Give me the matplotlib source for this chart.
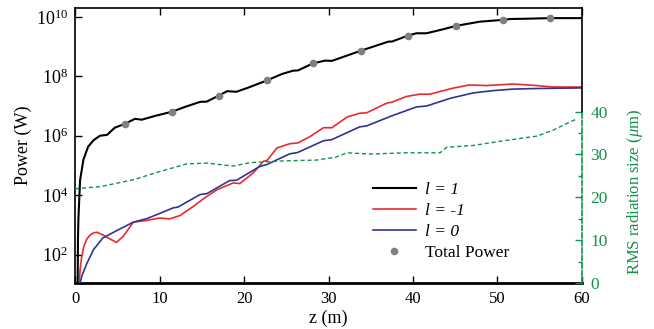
import matplotlib
matplotlib.use('Agg')
import matplotlib.pyplot as plt
import numpy as np
from matplotlib.ticker import FixedLocator, NullLocator, MultipleLocator

# ---------------------------------------------------------------------------
# data (power stored as log10(P / W))
# ---------------------------------------------------------------------------
z_l1 = [0.3, 0.35, 0.4, 0.6, 1.0, 1.55, 2.2, 2.95, 3.8, 4.7, 5.9, 7.1, 7.9, 9.5,
        11.5, 13.0, 14.8, 15.6, 17.0, 18.0, 19.1, 20.5, 22.7, 24.5, 25.8, 26.4,
        28.2, 29.6, 30.4, 32.0, 33.8, 35.5, 37.1, 37.5, 39.4, 40.4, 41.6, 43.5,
        45.1, 47.9, 50.6, 51.5, 53.5, 56.2, 58.0, 60.0]
logp_l1 = [0.5, 2.5, 3.2, 4.5, 5.2, 5.63, 5.85, 6.0, 6.03, 6.27, 6.4, 6.57, 6.54, 6.67,
           6.81, 6.97, 7.14, 7.15, 7.35, 7.5, 7.48, 7.62, 7.86, 8.08, 8.19, 8.2,
           8.44, 8.53, 8.52, 8.68, 8.86, 9.02, 9.17, 9.17, 9.37, 9.45, 9.45, 9.58,
           9.7, 9.84, 9.9, 9.93, 9.94, 9.96, 9.96, 9.96]

z_lm1 = [0.45, 0.6, 0.8, 1.07, 1.4, 1.8, 2.2, 2.6, 3.3, 4.1, 4.9, 5.7, 6.9, 8.5, 10.0,
         11.2, 12.4, 14.0, 15.2, 16.8, 18.7, 19.5, 21.1, 22.3, 22.7, 23.9, 25.4, 26.4,
         27.8, 29.4, 30.4, 32.2, 33.7, 34.5, 36.9, 37.5, 39.2, 40.8, 42.0, 44.7,
         46.7, 48.7, 51.8, 54.2, 56.6, 60.0]
logp_lm1 = [0.8, 1.5, 1.94, 2.3, 2.52, 2.66, 2.73, 2.75, 2.66, 2.53, 2.41, 2.61, 3.09, 3.15,
            3.23, 3.2, 3.31, 3.62, 3.88, 4.18, 4.41, 4.39, 4.75, 5.14, 5.16, 5.59, 5.73,
            5.76, 5.97, 6.27, 6.27, 6.63, 6.76, 6.77, 7.1, 7.13, 7.32, 7.4, 7.4, 7.6,
            7.71, 7.69, 7.74, 7.7, 7.64, 7.64]

z_l0 = [0.5, 0.8, 1.4, 2.2, 3.3, 4.9, 6.9, 8.5, 10.0, 11.6, 12.2, 14.8, 15.6, 18.3,
        19.1, 21.9, 22.7, 23.9, 25.4, 26.3, 29.4, 30.4, 33.7, 34.5, 37.5, 40.4,
        41.6, 44.4, 47.1, 49.5, 51.8, 54.7, 60.0]
logp_l0 = [0.9, 1.27, 1.7, 2.17, 2.56, 2.8, 3.09, 3.21, 3.38, 3.57, 3.6, 4.02, 4.05, 4.49,
           4.5, 4.97, 5.03, 5.19, 5.39, 5.43, 5.83, 5.87, 6.3, 6.33, 6.67, 6.97,
           7.0, 7.26, 7.44, 7.52, 7.57, 7.59, 7.61]

z_total = [5.9, 11.5, 17.0, 22.7, 28.2, 33.8, 39.4, 45.1, 50.6, 56.2]
logp_total = [6.4, 6.81, 7.35, 7.86, 8.44, 8.86, 9.37, 9.7, 9.9, 9.96]

z_rms = [0.0, 3.0, 6.9, 10.0, 13.2, 15.6, 18.7, 20.7, 24.6, 28.6, 30.9, 32.2, 34.9,
         39.2, 43.2, 44.0, 47.1, 50.7, 54.7, 56.6, 58.9, 59.5]
rms_um = [22.0, 22.5, 24.1, 26.0, 27.8, 28.0, 27.3, 28.1, 28.5, 28.7, 29.4, 30.4, 30.1,
          30.4, 30.4, 31.7, 32.1, 33.2, 34.3, 35.7, 37.9, 38.3]

# colours
C_L1 = 'black'
C_LM1 = '#ec2a2e'
C_L0 = '#2e3592'
C_TOT = '#808080'
C_RMS = '#12924a'

plt.rcParams['font.family'] = 'Liberation Serif'
plt.rcParams['mathtext.fontset'] = 'custom'
plt.rcParams['mathtext.rm'] = 'Liberation Serif'
plt.rcParams['mathtext.it'] = 'Liberation Serif:italic'
plt.rcParams['font.size'] = 12

fig = plt.figure(figsize=(6.54, 3.29), dpi=100)
ax = fig.add_axes([0.1147, 0.1398, 0.7752, 0.8359])

ax.plot(z_l1, 10 ** np.array(logp_l1), color=C_L1, lw=1.5, label='l = 1', zorder=4)
ax.plot(z_lm1, 10 ** np.array(logp_lm1), color=C_LM1, lw=1.2, label='l = -1', zorder=3)
ax.plot(z_l0, 10 ** np.array(logp_l0), color=C_L0, lw=1.2, label='l = 0', zorder=3)
ax.plot(z_total, 10 ** np.array(logp_total), 'o', color=C_TOT, ms=5.5, mec='none',
        label='Total Power', zorder=5)

ax.set_yscale('log')
ax.set_xlim(0, 60)
ax.set_ylim(11, 2e10)
ax.yaxis.set_major_locator(FixedLocator([1e2, 1e4, 1e6, 1e8, 1e10]))
ax.yaxis.set_minor_locator(NullLocator())
ax.xaxis.set_major_locator(MultipleLocator(10))
ax.tick_params(axis='both', direction='in', length=5, width=1, pad=5)
ax.tick_params(axis='x', top=True, labelsize=12, pad=6)
ax.tick_params(axis='y', right=False, labelsize=13)
ax.set_xlabel('z (m)', fontsize=13, labelpad=2)
ax.set_ylabel('Power (W)', fontsize=13, labelpad=3)
for s in ['left', 'top']:
    ax.spines[s].set_linewidth(1.2)
ax.spines['bottom'].set_linewidth(2)
ax.spines['right'].set_visible(False)

leg = ax.legend(loc='upper left', bbox_to_anchor=(0.57, 0.4), frameon=False,
                fontsize=12.5, handlelength=2.5, handletextpad=0.5,
                labelspacing=0.28, borderpad=0)
for t in leg.get_texts()[:3]:
    t.set_style('italic')

# right axis: RMS radiation size
ax2 = ax.twinx()
ax2.plot(z_rms, rms_um, color=C_RMS, lw=1.0, ls=(0, (3, 2)))
ax2.set_ylim(0, 64.2)
ax2.yaxis.set_major_locator(FixedLocator([0, 10, 20, 30, 40]))
ax2.yaxis.set_minor_locator(FixedLocator([5, 15, 25, 35]))
ax2.tick_params(axis='y', which='both', direction='in', colors=C_RMS, labelsize=12.5,
                width=1, pad=6)
ax2.tick_params(axis='y', which='major', length=5)
ax2.tick_params(axis='y', which='minor', length=3)
for s in ['left', 'top', 'bottom']:
    ax2.spines[s].set_visible(False)
ax2.spines['right'].set_bounds(0, 40)
ax2.spines['right'].set_color(C_RMS)
ax2.spines['right'].set_linestyle((0, (3, 1.5)))
ax2.spines['right'].set_linewidth(1.2)
ax2.plot([60, 60], [40, 64.2], color='black', lw=1.2, clip_on=False)
ax2.set_ylabel(r'RMS radiation size ($\mu$m)', color=C_RMS, fontsize=12)
ax2.yaxis.set_label_coords(1.085, 0.33)

fig.savefig('out.png', dpi=100)
